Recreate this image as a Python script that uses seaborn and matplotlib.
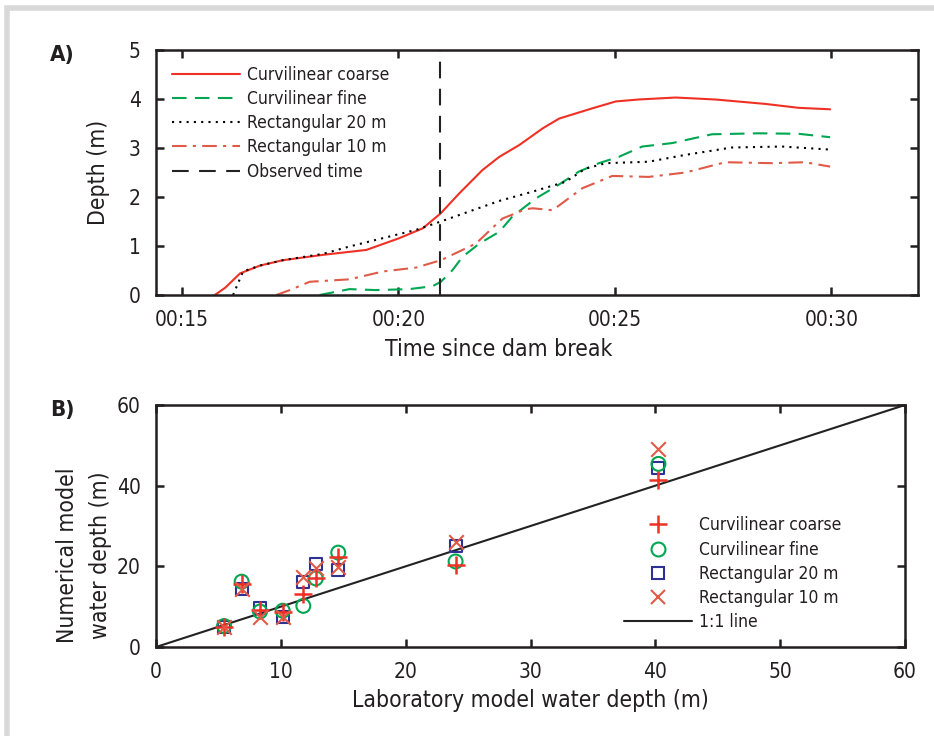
import numpy as np
import pandas as pd
import seaborn as sns
import matplotlib.pyplot as plt
from matplotlib.patches import Rectangle
from matplotlib.lines import Line2D

# Panel A: depth time series (minutes since dam break)
coarse_t = [15.76, 16.0, 16.34, 16.8, 17.33, 18.26, 19.26, 20.02, 20.56, 20.98, 21.4, 21.94,
            22.33, 22.79, 23.33, 23.71, 24.48, 25.02, 25.55, 26.4, 27.32, 28.47, 29.24, 29.97]
coarse_d = [0.0, 0.15, 0.44, 0.6, 0.71, 0.82, 0.92, 1.16, 1.36, 1.67, 2.07, 2.55,
            2.82, 3.06, 3.4, 3.6, 3.81, 3.95, 3.99, 4.03, 3.99, 3.9, 3.82, 3.79]

fine_t = [18.18, 18.87, 19.49, 20.25, 20.79, 20.98, 21.25, 21.48, 21.87, 22.33, 22.63, 23.17,
          23.63, 24.17, 24.63, 25.09, 25.63, 26.32, 27.24, 28.32, 29.24, 29.97]
fine_d = [0.0, 0.12, 0.1, 0.12, 0.18, 0.27, 0.51, 0.78, 1.05, 1.29, 1.6, 1.97,
          2.21, 2.52, 2.69, 2.82, 3.03, 3.1, 3.28, 3.3, 3.29, 3.22]

rect20_t = [16.18, 16.41, 16.8, 17.33, 18.26, 18.87, 19.64, 20.41, 20.98, 21.94, 22.33, 23.1,
            23.86, 24.32, 24.79, 25.78, 26.63, 27.7, 28.86, 29.93]
rect20_d = [0.0, 0.48, 0.6, 0.71, 0.84, 0.99, 1.16, 1.33, 1.5, 1.8, 1.92, 2.11,
            2.31, 2.58, 2.69, 2.72, 2.86, 3.01, 3.03, 2.97]

rect10_t = [17.18, 17.49, 17.95, 18.87, 19.64, 20.41, 20.98, 21.79, 22.4, 22.94, 23.1, 23.56,
            24.25, 24.94, 25.78, 26.63, 27.55, 28.62, 29.39, 29.97]
rect10_d = [0.0, 0.1, 0.27, 0.32, 0.48, 0.56, 0.71, 1.05, 1.56, 1.75, 1.77, 1.73,
            2.18, 2.43, 2.41, 2.5, 2.71, 2.69, 2.71, 2.62]

observed_t = 20.97
time_ticks = [15, 20, 25, 30]
time_labels = ['00:15', '00:20', '00:25', '00:30']

# Panel B: laboratory vs numerical water depth
lab = [5.45, 6.86, 8.33, 10.15, 11.8, 12.8, 14.6, 24.0, 40.25]
num_coarse = [5.0, 15.7, 9.2, 8.75, 13.1, 17.0, 22.4, 20.3, 41.4]
num_fine = [5.2, 16.2, 8.8, 9.0, 10.2, 17.0, 23.4, 21.2, 45.4]
num_rect20 = [5.0, 14.5, 9.6, 7.4, 16.2, 20.5, 19.1, 25.1, 44.3]
num_rect10 = [4.9, 14.5, 7.4, 7.4, 17.4, 19.5, 19.9, 26.1, 49.0]

red = '#ee3124'
green = '#00a651'
blue = '#2e3192'
red2 = '#e05a48'

sns.set_style('ticks')
plt.rcParams['font.family'] = ['DejaVu Sans']
plt.rcParams['font.stretch'] = 'condensed'
plt.rcParams['text.color'] = '#231f20'
plt.rcParams['axes.labelcolor'] = '#231f20'
plt.rcParams['xtick.color'] = '#231f20'
plt.rcParams['ytick.color'] = '#231f20'
plt.rcParams['axes.edgecolor'] = '#231f20'
plt.rcParams['axes.linewidth'] = 1.8
plt.rcParams['xtick.direction'] = 'in'
plt.rcParams['ytick.direction'] = 'in'
plt.rcParams['xtick.top'] = True
plt.rcParams['ytick.right'] = True
plt.rcParams['xtick.major.width'] = 1.8
plt.rcParams['ytick.major.width'] = 1.8
plt.rcParams['xtick.major.size'] = 6
plt.rcParams['ytick.major.size'] = 6

fig = plt.figure(figsize=(9.34, 7.36), dpi=100)
ax1 = fig.add_axes([156 / 934, 1 - 295 / 736, (918 - 156) / 934, (295 - 50) / 736])
ax2 = fig.add_axes([156 / 934, 1 - 647 / 736, (905 - 156) / 934, (647 - 405) / 736])

# ---- panel A
sns.lineplot(x=coarse_t, y=coarse_d, ax=ax1, color=red, lw=1.5, label='Curvilinear coarse')
sns.lineplot(x=fine_t, y=fine_d, ax=ax1, color=green, lw=1.5, linestyle=(0, (7, 4)),
             label='Curvilinear fine')
sns.lineplot(x=rect20_t, y=rect20_d, ax=ax1, color='black', lw=1.5, linestyle=(0, (1, 2.5)),
             label='Rectangular 20 m')
sns.lineplot(x=rect10_t, y=rect10_d, ax=ax1, color=red2, lw=1.5, linestyle=(0, (7, 3, 1.5, 3)),
             label='Rectangular 10 m')
ax1.axvline(observed_t, color='#222222', lw=1.5, linestyle=(0, (8, 5)), label='Observed time')
ax1.set_xlim(14.4, 32)
ax1.set_ylim(0, 5)
ax1.set_xticks(time_ticks)
ax1.set_xticklabels(time_labels)
ax1.set_yticks(range(6))
ax1.tick_params(labelsize=15, pad=11)
ax1.set_xlabel('Time since dam break', fontsize=16.5)
ax1.xaxis.set_label_coords(0.45, -0.175)
ax1.set_ylabel('Depth (m)', fontsize=16.5)
ax1.yaxis.set_label_coords(-46 / 762, 0.5)
ax1.legend(loc='upper left', frameon=False, fontsize=12.5, handlelength=3.95,
           handletextpad=0.4, labelspacing=0.36, borderaxespad=0.5)

# ---- panel B
ax2.plot([0, 60], [0, 60], color='#222222', lw=1.5, label='1:1 line')
sns.scatterplot(x=lab, y=num_coarse, ax=ax2, marker='+', s=150, color=red, linewidth=1.8,
                label='Curvilinear coarse', zorder=5)
sns.scatterplot(x=lab, y=num_fine, ax=ax2, marker='o', s=100, color=green, facecolors='none',
                edgecolor=green, linewidth=1.5, label='Curvilinear fine', zorder=4)
sns.scatterplot(x=lab, y=num_rect20, ax=ax2, marker='s', s=75, color=blue, facecolors='none',
                edgecolor=blue, linewidth=1.5, label='Rectangular 20 m', zorder=3)
sns.scatterplot(x=lab, y=num_rect10, ax=ax2, marker='x', s=110, color=red2, linewidth=1.5,
                label='Rectangular 10 m', zorder=6)
ax2.set_xlim(0, 60)
ax2.set_ylim(0, 60)
ax2.set_xticks(range(0, 61, 10))
ax2.set_yticks(range(0, 61, 20))
ax2.tick_params(labelsize=15, pad=11)
ax2.set_xlabel('Laboratory model water depth (m)', fontsize=16.5, labelpad=5)
ax2.set_ylabel('Numerical model\nwater depth (m)', fontsize=16.5, linespacing=1.55)
ax2.yaxis.set_label_coords(-44 / 749, 0.38)

handles = [
    Line2D([], [], color=red, marker='+', ms=13, mew=1.8, ls='none'),
    Line2D([], [], color=green, marker='o', ms=10, mfc='none', mew=1.5, ls='none'),
    Line2D([], [], color=blue, marker='s', ms=8.5, mfc='none', mew=1.5, ls='none'),
    Line2D([], [], color=red2, marker='x', ms=10, mew=1.5, ls='none'),
    Line2D([], [], color='#222222', lw=1.5),
]
labels = ['Curvilinear coarse', 'Curvilinear fine', 'Rectangular 20 m', 'Rectangular 10 m', '1:1 line']
ax2.legend(handles, labels, loc='lower left', bbox_to_anchor=(452 / 749, 0.0), frameon=False,
           fontsize=12.5, handlelength=3.95, handletextpad=0.4, labelspacing=0.36)

fig.text(50 / 934, 1 - 55 / 736, 'A)', fontsize=16, fontweight='bold', va='center')
fig.text(50 / 934, 1 - 410 / 736, 'B)', fontsize=16, fontweight='bold', va='center')

# light grey frame around the figure
fig.patches.append(Rectangle((7 / 934, -0.05), 1.1, 1 - 7.5 / 736 + 0.05, transform=fig.transFigure,
                             fill=False, edgecolor='#d9d9d9', lw=4))

fig.savefig('out.png', dpi=100)
